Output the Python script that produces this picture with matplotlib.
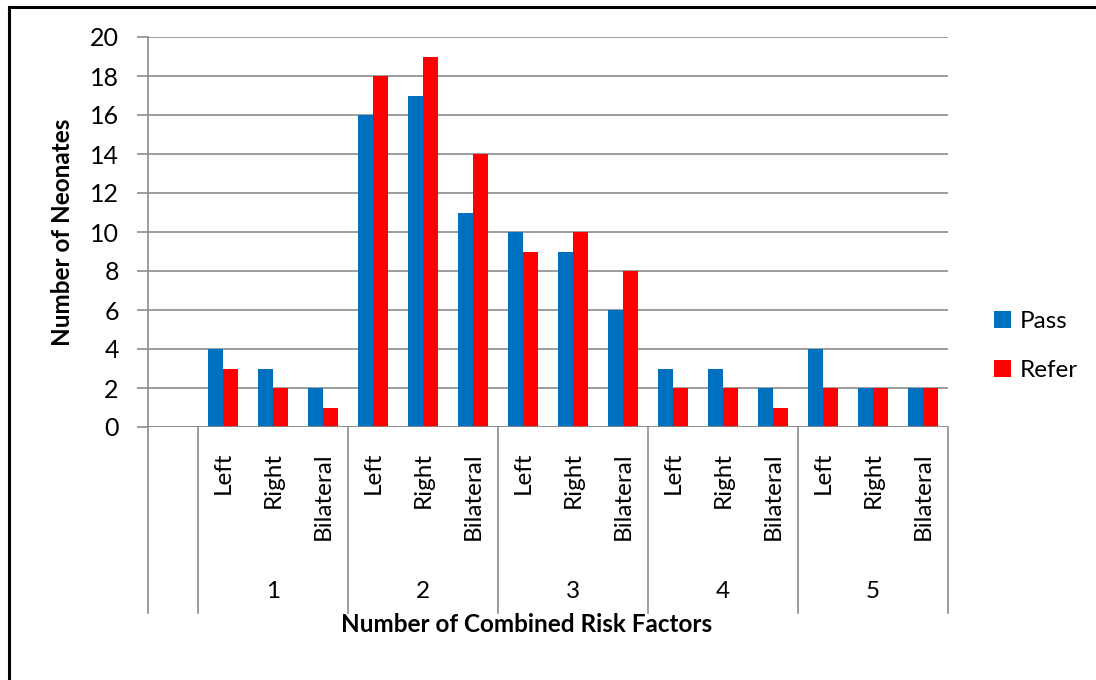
"""Pass/refer counts by number of combined risk factors and ear side."""

import matplotlib

matplotlib.use("Agg")
import matplotlib.pyplot as plt
from matplotlib.lines import Line2D
from matplotlib.patches import Patch
import matplotlib.transforms as mtransforms
import numpy as np

groups = ["1", "2", "3", "4", "5"]
sides = ["Left", "Right", "Bilateral"]
pass_counts = [4, 3, 2, 16, 17, 11, 10, 9, 6, 3, 3, 2, 4, 2, 2]
refer_counts = [3, 2, 1, 18, 19, 14, 9, 10, 8, 2, 2, 1, 2, 2, 2]
y_ticks = list(range(0, 21, 2))

BLUE = "#0070C0"
RED = "#FF0000"
GRID = "#8C8C8C"
FONT = ["Lato", "DejaVu Sans"]

plt.rcParams["font.family"] = FONT

W, H = 1096, 680
figure = plt.figure(figsize=(W / 100, H / 100), dpi=100)
# plot area in pixels: x 148..948, y 37..427
axis = figure.add_axes([148 / W, 1 - 427 / H, 800 / W, 390 / H])

# first slot is an empty category, as in the original
centers = np.arange(1, 1 + len(pass_counts)) + 0.5
axis.bar(centers - 0.3, pass_counts, width=0.3, align="edge", color=BLUE, zorder=3)
axis.bar(centers, refer_counts, width=0.3, align="edge", color=RED, zorder=3)

axis.set_xlim(0, 16)
axis.set_ylim(0, 20)
axis.set_yticks(y_ticks)
axis.set_yticklabels([str(v) for v in y_ticks], fontsize=18, color="black")
axis.tick_params(axis="y", length=8, width=1.2, color=GRID, pad=13)
axis.set_xticks([])
axis.grid(axis="y", color=GRID, linewidth=1.2, zorder=0)
for side in ("top", "right", "bottom"):
    axis.spines[side].set_visible(False)
axis.spines["left"].set_color(GRID)
axis.spines["left"].set_linewidth(1.2)
axis.axhline(0, color=GRID, linewidth=1.2, zorder=4)

trans = mtransforms.blended_transform_factory(axis.transData, axis.transAxes)
sep_bottom = (427 - 613) / 390
for x in [0, 1, 4, 7, 10, 13, 16]:
    axis.add_line(Line2D([x, x], [0, sep_bottom], transform=trans, color=GRID,
                         linewidth=1.2, clip_on=False))

for i, c in enumerate(centers):
    axis.text(c, (427 - 452) / 390, sides[i % 3], transform=trans, rotation=90,
              ha="center", va="top", fontsize=17.5)
for g, name in enumerate(groups):
    axis.text(2.5 + 3 * g, (427 - 591) / 390, name, transform=trans,
              ha="center", va="center", fontsize=17.5)

figure.text(527 / W, 1 - 624 / H, "Number of Combined Risk Factors", ha="center",
            va="center", fontsize=17.5, fontweight="bold")
figure.text(62 / W, 1 - 232 / H, "Number of Neonates", ha="center", va="center",
            rotation=90, fontsize=17.5, fontweight="bold")

handles = [Patch(facecolor=BLUE), Patch(facecolor=RED)]
figure.legend(handles, ["Pass", "Refer"], loc="center left",
              bbox_to_anchor=(972 / W, 1 - 346 / H), frameon=False, fontsize=17.5,
              handlelength=0.7, handleheight=0.7, handletextpad=0.35, labelspacing=1.15)

# chart border: only top and left edges are visible in the source
figure.add_artist(Line2D([9 / W, 1], [1 - 7 / H, 1 - 7 / H], color="black", linewidth=2.2))
figure.add_artist(Line2D([9 / W, 9 / W], [0, 1 - 7 / H], color="black", linewidth=2.2))

figure.savefig("out.png", dpi=100)
